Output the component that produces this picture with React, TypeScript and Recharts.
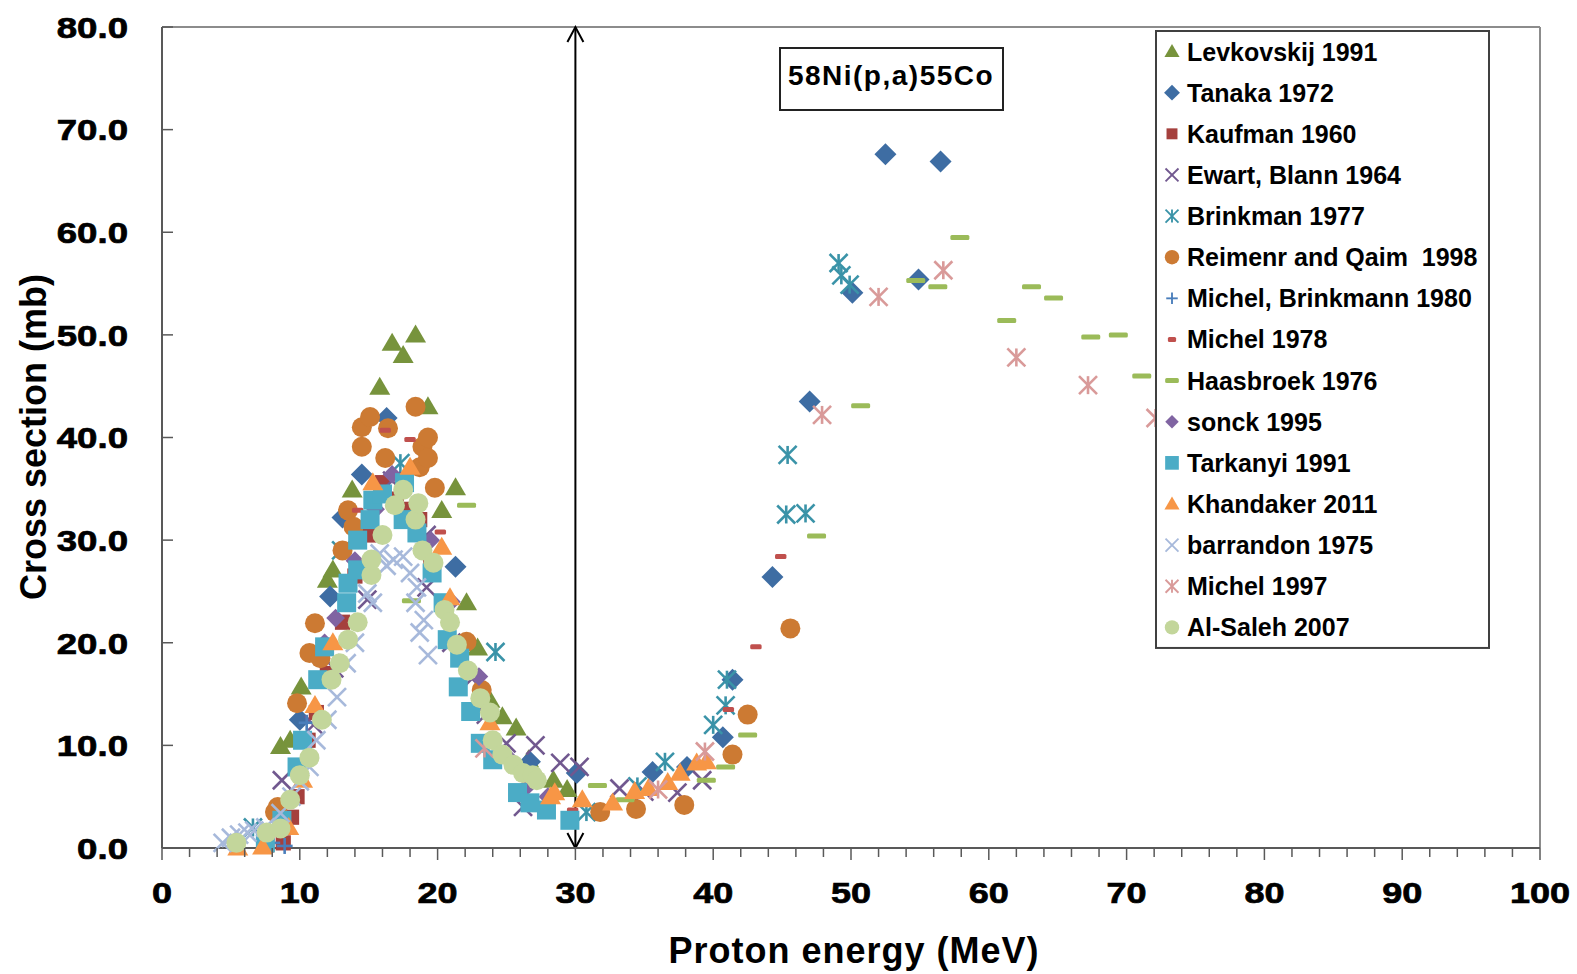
import React from 'react';
import { ScatterChart, Scatter, XAxis, YAxis, ReferenceLine } from 'recharts';

const FONT = '"Liberation Sans", Arial, sans-serif';

// [energy MeV, cross section mb]
const levkovskij = [[8.6, 9.9], [9.3, 10.5], [10.1, 15.7], [12.0, 26.1], [12.4, 27.1], [13.8, 34.9], [15.8, 44.9], [16.7, 49.2], [17.5, 48.0], [18.4, 50.0], [19.3, 43.0], [20.3, 32.9], [21.3, 35.1], [22.1, 23.9], [22.9, 19.5], [23.8, 14.4], [24.7, 12.8], [25.7, 11.7], [26.6, 8.6], [28.4, 6.6], [29.4, 5.7]];
const tanaka = [[10.0, 12.5], [12.2, 24.5], [13.1, 32.2], [14.5, 36.4], [16.3, 41.9], [21.3, 27.4], [26.7, 8.4], [30.1, 7.3], [35.6, 7.4], [38.1, 7.9], [40.7, 10.8], [41.4, 16.4], [44.3, 26.4], [47.0, 43.5], [50.1, 54.1], [52.5, 67.6], [54.9, 55.4], [56.5, 66.9]];
const kaufman = [[7.6, 0.3], [8.8, 0.5], [9.4, 3.0], [9.8, 5.0], [10.6, 10.5], [11.2, 13.2], [12.0, 17.0], [13.1, 22.0], [14.0, 26.5], [15.0, 30.5], [16.0, 35.6], [17.0, 34.0], [18.0, 33.0], [18.7, 32.0], [19.5, 28.0]];
const ewart = [[8.7, 6.6], [11.0, 12.0], [12.5, 17.5], [14.9, 24.2], [16.7, 35.8], [19.2, 30.5], [19.2, 25.4], [21.0, 20.0], [22.5, 16.5], [23.5, 13.0], [25.0, 10.2], [26.2, 4.0], [27.1, 10.0], [28.9, 8.3], [30.3, 7.9], [33.2, 5.8], [35.0, 5.5], [37.4, 5.4], [39.2, 6.6]];
const brinkman = [[6.6, 2.0], [13.0, 29.0], [17.3, 37.5], [24.2, 19.1], [30.8, 3.5], [34.5, 6.0], [36.5, 8.4], [40.0, 12.0], [40.9, 13.9], [41.0, 16.4], [45.3, 32.5], [45.4, 38.3], [46.7, 32.6], [49.1, 57.0], [49.3, 55.8], [49.9, 54.9]];
const reimenr = [[8.2, 3.5], [8.4, 4.0], [9.8, 14.1], [10.7, 19.0], [11.1, 21.9], [11.5, 18.5], [13.1, 29.0], [13.5, 32.9], [13.9, 31.3], [14.5, 39.1], [14.5, 41.0], [15.1, 42.0], [16.2, 38.0], [16.4, 40.9], [18.4, 43.0], [18.7, 37.1], [18.9, 39.1], [19.3, 40.0], [19.3, 38.0], [19.8, 35.1], [22.1, 20.1], [23.2, 15.4], [31.8, 3.5], [34.4, 3.8], [37.9, 4.2], [41.4, 9.1], [42.5, 13.0], [45.6, 21.4]];
const michelBrinkmann = [[8.0, 0.5], [8.9, 0.2], [10.5, 12.2]];
const michel1978 = [[14.2, 32.9], [16.2, 40.7], [18.0, 39.8], [20.2, 30.8], [29.8, 3.7], [41.1, 13.5], [43.1, 19.6], [44.9, 28.4]];
const haasbroek = [[18.1, 24.1], [22.1, 33.4], [31.6, 6.1], [33.6, 4.7], [39.5, 6.6], [40.9, 7.9], [42.5, 11.0], [47.5, 30.4], [50.7, 43.1], [54.7, 55.3], [56.3, 54.7], [57.9, 59.5], [61.3, 51.4], [63.1, 54.7], [64.7, 53.6], [67.4, 49.8], [69.4, 50.0], [71.1, 46.0]];
const sonck = [[11.8, 20.0], [12.6, 22.4], [14.0, 28.0], [15.5, 33.0], [16.7, 36.4], [19.5, 30.0], [21.0, 24.0], [23.0, 16.7], [25.0, 9.0], [26.5, 6.0], [28.0, 5.0]];
const tarkanyi = [[7.5, 0.5], [8.7, 2.7], [9.8, 7.9], [10.2, 10.5], [11.3, 16.4], [11.8, 19.6], [13.4, 23.9], [13.5, 25.8], [14.2, 27.1], [14.2, 30.0], [15.1, 32.0], [15.3, 33.9], [16.0, 34.5], [17.5, 32.0], [17.6, 35.6], [18.5, 30.7], [19.6, 26.8], [20.4, 23.9], [20.7, 20.3], [21.6, 18.5], [21.5, 15.7], [22.4, 13.3], [23.1, 10.2], [24.0, 8.6], [25.8, 5.4], [26.7, 4.4], [27.9, 3.7], [29.6, 2.7]];
const khandaker = [[5.5, 0.0], [7.3, 0.1], [9.2, 2.0], [10.2, 6.6], [11.1, 13.9], [12.4, 20.0], [15.3, 35.6], [18.0, 37.1], [20.3, 29.3], [20.9, 24.4], [23.8, 12.2], [28.2, 5.0], [28.5, 5.4], [30.5, 4.7], [32.7, 4.4], [34.3, 5.5], [35.3, 5.8], [36.7, 6.4], [37.6, 7.3], [38.8, 8.3], [39.5, 8.4]];
const barrandon = [[4.4, 0.5], [5.0, 1.0], [5.6, 1.3], [6.2, 1.5], [6.7, 1.7], [7.5, 2.0], [8.6, 3.4], [9.4, 5.0], [10.0, 6.5], [10.7, 7.9], [11.2, 10.5], [12.0, 12.5], [12.7, 14.7], [13.4, 18.0], [14.0, 20.0], [14.9, 24.8], [15.3, 23.9], [15.8, 28.7], [16.3, 27.5], [16.8, 28.1], [17.5, 28.4], [18.0, 26.8], [18.4, 23.9], [18.5, 25.4], [18.7, 21.0], [19.0, 22.2], [19.3, 18.8]];
const michel1997 = [[23.4, 9.7], [36.0, 5.7], [39.4, 9.4], [47.9, 42.2], [52.0, 53.7], [56.7, 56.3], [62.0, 47.8], [67.2, 45.1], [72.1, 41.9]];
const alSaleh = [[5.4, 0.5], [7.6, 1.5], [8.6, 1.9], [9.3, 4.7], [10.0, 7.1], [10.7, 8.8], [11.6, 12.5], [12.3, 16.4], [12.9, 18.0], [13.5, 20.3], [14.2, 22.0], [15.2, 26.6], [15.2, 28.1], [16.0, 30.5], [16.9, 33.4], [17.5, 34.9], [18.4, 32.0], [18.6, 33.6], [18.9, 29.0], [19.7, 27.8], [20.5, 23.2], [20.9, 22.0], [21.4, 19.8], [22.2, 17.3], [23.1, 14.6], [23.8, 13.2], [24.0, 10.5], [24.7, 9.1], [25.5, 8.1], [26.2, 7.3], [26.9, 7.1], [27.2, 6.6]];

const xTicks = [0, 2, 4, 6, 8, 10, 12, 14, 16, 18, 20, 22, 24, 26, 28, 30, 32, 34, 36, 38, 40, 42, 44, 46, 48, 50, 52, 54, 56, 58, 60, 62, 64, 66, 68, 70, 72, 74, 76, 78, 80, 82, 84, 86, 88, 90, 92, 94, 96, 98, 100];
const yTicks = [0, 10, 20, 30, 40, 50, 60, 70, 80];

const series = [
  { name: 'Levkovskij 1991', data: levkovskij, color: '#77933C', kind: 'triangle', size: 1 },
  { name: 'Tanaka 1972', data: tanaka, color: '#3E6DA3', kind: 'diamond', size: 1 },
  { name: 'Kaufman 1960', data: kaufman, color: '#A5403D', kind: 'square', size: 0.8 },
  { name: 'Ewart, Blann 1964', data: ewart, color: '#71588F', kind: 'x', size: 1 },
  { name: 'Brinkman 1977', data: brinkman, color: '#3A93A8', kind: 'asterisk', size: 1 },
  { name: 'Reimenr and Qaim  1998', data: reimenr, color: '#CC7A33', kind: 'circle', size: 1 },
  { name: 'Michel, Brinkmann 1980', data: michelBrinkmann, color: '#4A7EBB', kind: 'plus', size: 1 },
  { name: 'Michel 1978', data: michel1978, color: '#C0504D', kind: 'dash', size: 0.6 },
  { name: 'Haasbroek 1976', data: haasbroek, color: '#9BBB59', kind: 'dash', size: 1 },
  { name: 'sonck 1995', data: sonck, color: '#8064A2', kind: 'diamond', size: 0.85 },
  { name: 'Tarkanyi 1991', data: tarkanyi, color: '#4BACC6', kind: 'square', size: 1 },
  { name: 'Khandaker 2011', data: khandaker, color: '#F79646', kind: 'triangle', size: 1 },
  { name: 'barrandon 1975', data: barrandon, color: '#A7B9DB', kind: 'x', size: 1 },
  { name: 'Michel 1997', data: michel1997, color: '#D99A99', kind: 'asterisk', size: 1 },
  { name: 'Al-Saleh 2007', data: alSaleh, color: '#C3D69B', kind: 'circle', size: 1 },
];

function Marker({ kind, color, cx, cy, s }: any) {
  const line = { stroke: color, strokeWidth: 2.6 * Math.max(s, 0.6) };
  switch (kind) {
    case 'triangle': {
      const w = 21 * s, h = 18 * s;
      return <polygon points={`${cx},${cy - h * 0.58} ${cx + w / 2},${cy + h * 0.42} ${cx - w / 2},${cy + h * 0.42}`} fill={color} />;
    }
    case 'diamond': {
      const r = 11 * s;
      return <polygon points={`${cx},${cy - r} ${cx + r},${cy} ${cx},${cy + r} ${cx - r},${cy}`} fill={color} />;
    }
    case 'square': {
      const a = 19 * s;
      return <rect x={cx - a / 2} y={cy - a / 2} width={a} height={a} fill={color} />;
    }
    case 'circle':
      return <circle cx={cx} cy={cy} r={10 * s} fill={color} />;
    case 'x': {
      const r = 9 * s;
      return <g {...line}><line x1={cx - r} y1={cy - r} x2={cx + r} y2={cy + r} /><line x1={cx - r} y1={cy + r} x2={cx + r} y2={cy - r} /></g>;
    }
    case 'asterisk': {
      const r = 9 * s;
      return <g {...line}><line x1={cx - r} y1={cy - r} x2={cx + r} y2={cy + r} /><line x1={cx - r} y1={cy + r} x2={cx + r} y2={cy - r} /><line x1={cx} y1={cy - r} x2={cx} y2={cy + r} /></g>;
    }
    case 'plus': {
      const r = 8 * s;
      return <g {...line}><line x1={cx - r} y1={cy} x2={cx + r} y2={cy} /><line x1={cx} y1={cy - r} x2={cx} y2={cy + r} /></g>;
    }
    case 'dash': {
      const w = 19 * s;
      return <rect x={cx - w / 2} y={cy - 2.5} width={w} height={5} rx={1.5} fill={color} />;
    }
    default:
      return null;
  }
}

const XTick = (props: any) => {
  const { x, y, payload } = props;
  const v = payload.value;
  const major = v % 10 === 0;
  return (
    <g>
      <line x1={x} x2={x} y1={y} y2={y + (major ? 12 : 9)} stroke="#595959" strokeWidth={1.5} />
      {major && (
        <text transform={`translate(${x},${y + 44}) scale(1.2,1)`} textAnchor="middle" dy="0.36em" fontSize={30} fontWeight="bold" fill="#000" stroke="#000" strokeWidth={0.7} fontFamily={FONT}>
          {v}
        </text>
      )}
    </g>
  );
};

const YTick = (props: any) => {
  const { x, y, payload } = props;
  return (
    <g>
      <line x1={x} x2={x + 11} y1={y} y2={y} stroke="#595959" strokeWidth={1.5} />
      <text transform={`translate(${x - 34},${y}) scale(1.22,1)`} textAnchor="end" dy="0.36em" fontSize={30} fontWeight="bold" fill="#000" stroke="#000" strokeWidth={0.7} fontFamily={FONT}>
        {payload.value.toFixed(1)}
      </text>
    </g>
  );
};

const ArrowLine = (p: any) => {
  const x = p.x1;
  const top = Math.min(p.y1, p.y2);
  const bot = Math.max(p.y1, p.y2);
  return (
    <g stroke="#000" strokeWidth={2} fill="none">
      <line x1={x} y1={top} x2={x} y2={bot} />
      <polyline points={`${x - 8},${top + 15} ${x},${top} ${x + 8},${top + 15}`} />
      <polyline points={`${x - 8},${bot - 15} ${x},${bot} ${x + 8},${bot - 15}`} />
    </g>
  );
};

const LEG_TOP = 31;
const LEG_ROW = 41.13;

export default function App() {
  return (
    <div style={{ position: 'absolute', left: 0, top: 0, width: 1577, height: 974, background: '#fff', fontFamily: FONT }}>
      <ScatterChart width={1577} height={974} margin={{ top: 27, right: 37, bottom: 46, left: 62 }}>
        <XAxis
          type="number"
          dataKey="x"
          domain={[0, 100]}
          ticks={xTicks}
          interval={0}
          height={80}
          tickSize={0}
          tickMargin={0}
          tickLine={false}
          tick={<XTick />}
          axisLine={{ stroke: '#595959', strokeWidth: 2 }}
        />
        <YAxis
          type="number"
          dataKey="y"
          domain={[0, 80]}
          ticks={yTicks}
          interval={0}
          width={100}
          tickSize={0}
          tickMargin={0}
          tickLine={false}
          tick={<YTick />}
          axisLine={{ stroke: '#595959', strokeWidth: 2 }}
        />
        <ReferenceLine y={80} stroke="#8c8c8c" strokeWidth={2} />
        <ReferenceLine x={100} stroke="#8c8c8c" strokeWidth={2} />
        {series.map((s) => (
          <Scatter
            key={s.name}
            name={s.name}
            data={s.data.map(([x, y]) => ({ x, y }))}
            isAnimationActive={false}
            shape={(p: any) => <Marker kind={s.kind} color={s.color} cx={p.cx} cy={p.cy} s={s.size} />}
          />
        ))}
        <ReferenceLine x={30} shape={ArrowLine} />
      </ScatterChart>

      <svg width={1577} height={974} style={{ position: 'absolute', left: 0, top: 0, pointerEvents: 'none' }} fontFamily={FONT}>
        <text transform="translate(33,437) rotate(-90)" textAnchor="middle" dy="0.35em" fontSize={36} fontWeight="bold" fill="#000">
          Cross section (mb)
        </text>
        <text x={854} y={950} textAnchor="middle" dy="0.35em" fontSize={36} fontWeight="bold" fill="#000" letterSpacing={1}>
          Proton energy (MeV)
        </text>

        <rect x={780} y={48} width={223} height={62} fill="#fff" stroke="#222" strokeWidth={2} />
        <text x={891} y={75} textAnchor="middle" dy="0.35em" fontSize={28} fontWeight="bold" fill="#000" letterSpacing={1.5}>
          58Ni(p,a)55Co
        </text>

        <rect x={1156} y={LEG_TOP} width={333} height={LEG_ROW * 15} fill="#fff" stroke="#404040" strokeWidth={2} />
        {series.map((s, i) => {
          const cy = LEG_TOP + (i + 0.5) * LEG_ROW;
          return (
            <g key={s.name}>
              <Marker kind={s.kind} color={s.color} cx={1172} cy={cy} s={s.size * 0.72} />
              <text x={1187} y={cy} dy="0.36em" fontSize={25} fontWeight="bold" fill="#000" style={{ whiteSpace: 'pre' }}>
                {s.name}
              </text>
            </g>
          );
        })}
      </svg>
    </div>
  );
}
